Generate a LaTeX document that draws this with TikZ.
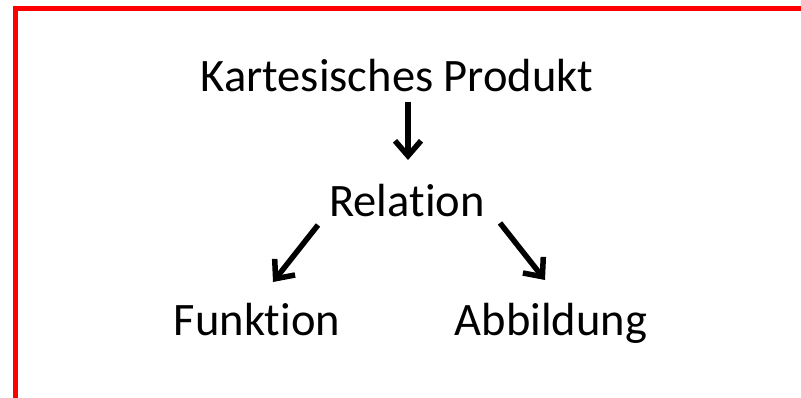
\documentclass[tikz,border=0pt]{standalone}
\usepackage{fontspec}
\setmainfont{Carlito}[Ligatures={NoCommon,TeX}]
\usetikzlibrary{arrows.meta}
\definecolor{framered}{HTML}{FF0000}
\definecolor{ink}{HTML}{000000}
\tikzset{
  term/.style={
    anchor=base,
    inner sep=0pt,
    font=\fontsize{46.5}{56}\selectfont,
    text=ink
  },
  leads/.style={-{Straight Barb[length=15pt,width=26pt]},line width=5.5pt,draw=ink},
  frame/.style={draw=framered,line width=5pt,line join=miter}
}

\begin{document}
\begin{tikzpicture}[x=1pt,y=-1pt]
  \useasboundingbox (0,0) rectangle (801,398);
  \draw[frame] (15,410) -- (15,8.7) -- (815,8.7);

  \node[term] (kart) at (397,92) {Kartesisches Produkt};
  \node[term] (rel) at (407,217) {Relation};
  \node[term] (fun) at (257,335) {Funktion};
  \node[term] (abb) at (551,335) {Abbildung};

  \draw[leads] ([xshift=11pt,yshift=-10pt]kart.base) -- ([xshift=1pt,yshift=57pt]rel.base);
  \draw[leads] ([xshift=-89pt,yshift=-8pt]rel.base) -- ([xshift=16pt,yshift=53pt]fun.base);
  \draw[leads] ([xshift=93pt,yshift=-6pt]rel.base) -- ([xshift=-6pt,yshift=55pt]abb.base);
\end{tikzpicture}
\end{document}
